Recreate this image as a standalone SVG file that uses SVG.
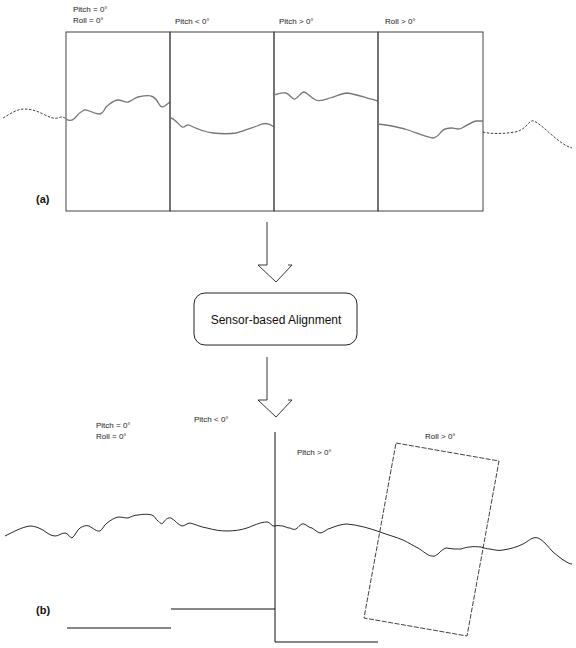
<svg xmlns="http://www.w3.org/2000/svg" width="576" height="648" viewBox="0 0 576 648">
<style>
.lbl{font-family:"Liberation Sans",Arial,sans-serif;font-size:8px;fill:#222}
.big{font-family:"Liberation Sans",Arial,sans-serif;font-size:11px;font-weight:bold;fill:#111}
.frame{fill:none;stroke:#444;stroke-width:1}
.wave{fill:none;stroke:#777;stroke-width:1.3;stroke-linejoin:round}
.dash{fill:none;stroke:#111;stroke-width:0.8;stroke-dasharray:2.5 1.5}
.line{fill:none;stroke:#111;stroke-width:1}
.arrow{fill:none;stroke:#222;stroke-width:0.9}
</style>
<rect width="576" height="648" fill="#fff"/>
<g id="panel-a">
  <g id="frame-1">
    <rect class="frame" x="66" y="32" width="104" height="179"/>
    <path class="wave" d="M66,119 C69,121 72,121 75,118 C78,114 80,112 84,110 C89,109 92,114 100,114 C104,113 104,109 107,106 C111,103 114,100 118,100 C122,100 125,103 128,102 C132,101 134,98 138,97 C143,96 148,95 151,96 C155,97 157,100 159,104 C161,108 163,107 165,106 C167,104 169,103 170,102"/>
    <text class="lbl" x="73" y="12">Pitch = 0°</text>
    <text class="lbl" x="73" y="23">Roll = 0°</text>
  </g>
  <g id="frame-2">
    <rect class="frame" x="170" y="32" width="104" height="179"/>
    <path class="wave" d="M171,118 C175,119 178,124 182,127 C185,128 186,124 189,125 C195,128 205,132 213,133 C222,134 230,134 236,133 C244,131 251,128 257,126 C263,123 268,122 274,127"/>
    <text class="lbl" x="175" y="24">Pitch &lt; 0°</text>
  </g>
  <g id="frame-3">
    <rect class="frame" x="274" y="32" width="104" height="179"/>
    <path class="wave" d="M274,95 C278,94 282,92 286,93 C290,94 292,100 295,99 C298,98 301,92 304,92 C308,93 311,98 316,100 C320,102 324,100 330,98 C337,96 342,93 347,93 C356,94 366,98 378,101"/>
    <text class="lbl" x="279" y="24">Pitch &gt; 0°</text>
  </g>
  <g id="frame-4">
    <rect class="frame" x="378" y="32" width="105" height="179"/>
    <path class="wave" d="M378,124 C388,125 397,127 405,129 C415,132 425,137 433,138 C437,138 439,134 442,131 C445,128 448,128 452,128 C456,129 459,130 462,128 C467,125 472,122 476,121 C479,121 481,121 483,121"/>
    <text class="lbl" x="385" y="24">Roll &gt; 0°</text>
  </g>
  <path class="dash" d="M3,118 C10,114 17,109 24,109 C31,109 37,111 43,114 C49,117 53,119 58,118 C61,117 63,116 66,119"/>
  <path class="dash" d="M483,132 C490,134 503,134 515,132 C520,131 523,129 526,126 C529,123 531,120 534,121 C540,124 546,130 553,136 C559,141 565,146 572,148"/>
  <text class="big" x="36" y="203">(a)</text>
</g>
<g id="alignment">
  <rect class="frame" x="194" y="293" width="163" height="52" rx="11" ry="11" style="stroke:#222"/>
  <text x="276" y="324" text-anchor="middle" style="font-family:'Liberation Sans',Arial,sans-serif;font-size:12px;fill:#111">Sensor-based Alignment</text>
</g>
<g id="connectors">
  <polyline class="arrow" points="267,222 267,265 258,265 276,282 292,265 288,265"/>
  <polyline class="arrow" points="267,357 267,400 258,400 276,417 292,400 288,400"/>
</g>
<g id="panel-b">
  <text class="lbl" x="96" y="428">Pitch = 0°</text>
  <text class="lbl" x="96" y="439">Roll = 0°</text>
  <text class="lbl" x="194" y="422">Pitch &lt; 0°</text>
  <text class="lbl" x="297" y="455">Pitch &gt; 0°</text>
  <text class="lbl" x="425" y="439">Roll &gt; 0°</text>
  <g id="frame-b1"><line class="line" x1="67" y1="628" x2="171" y2="628"/></g>
  <g id="frame-b2"><polyline class="line" points="171,609 275,609"/></g>
  <g id="frame-b3"><polyline class="line" points="275,432 275,642 378,642"/></g>
  <g id="frame-b4"><polygon class="dash" points="396,443 499,461 467,636 364,618" style="stroke-dasharray:5 1.5"/></g>
  <path class="line" style="stroke-width:0.9" d="M5,536 C13,532 22,527 30,526 C35,526 39,528 43,530 C47,533 51,536 55,536 C59,536 61,533 65,533 C68,533 70,538 72,538 C75,536 77,530 80,528 C83,526 86,525 89,526 C93,528 97,532 100,531 C103,529 104,525 107,523 C111,520 114,518 118,517 C122,517 125,518 128,518 C131,517 134,515 138,515 C143,514 148,514 152,515 C155,516 156,520 158,521 C160,522 161,525 163,523 C165,520 168,517 171,518 C175,520 178,525 182,526 C185,526 187,523 190,523 C195,524 200,527 207,528 C214,530 221,531 227,531 C234,531 241,530 247,528 C253,526 260,522 267,522 C270,522 272,527 275,526 C278,525 280,526 283,526 C286,527 287,528 290,528 C292,529 294,530 296,529 C299,527 301,523 304,524 C307,525 309,528 312,528 C315,530 317,532 320,533 C324,533 326,529 331,528 C336,526 342,524 347,524 C358,525 369,528 380,532 C388,535 396,537 403,540 C409,543 414,546 418,548 C423,551 428,556 432,556 C435,557 436,555 438,554 C441,551 443,549 446,548 C449,548 451,549 454,549 C456,549 458,549 461,549 C464,548 467,547 470,547 C474,546 477,547 481,547 C484,548 487,549 490,549 C495,550 499,551 503,550 C510,549 517,547 523,544 C527,542 530,539 533,538 C536,537 538,538 540,539 C545,542 549,548 553,552 C557,555 561,559 565,561 C568,563 570,564 572,564"/>
  <text class="big" x="36" y="614">(b)</text>
</g>
</svg>
